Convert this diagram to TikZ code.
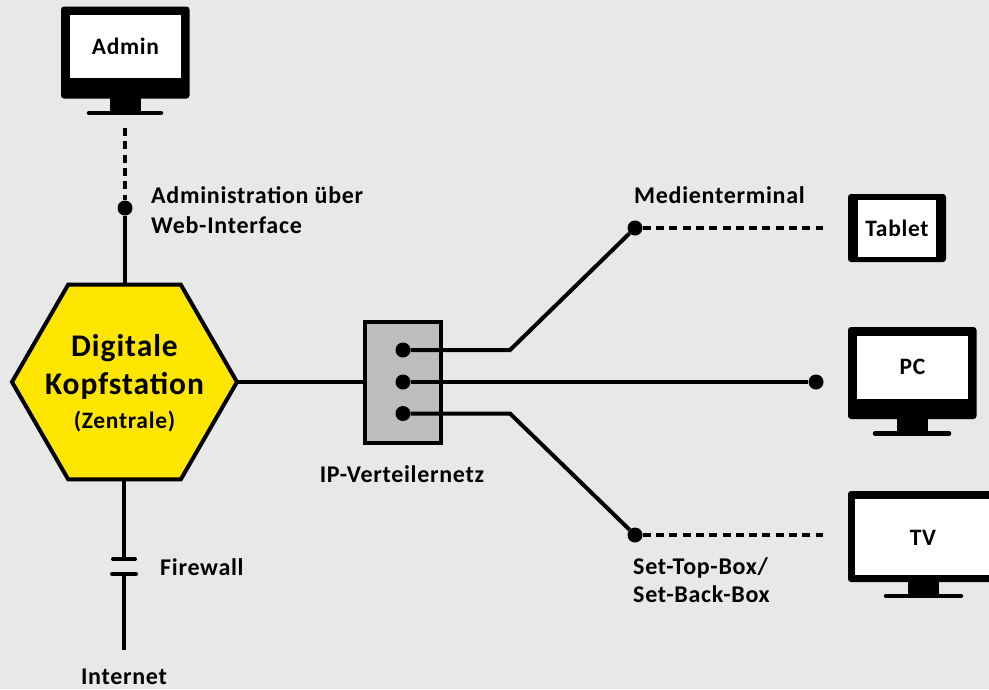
\documentclass[tikz,border=0pt]{standalone}
\usepackage{fontspec}
\setmainfont{Carlito}[LetterSpace=3,BoldFont=Carlito Bold]
\usetikzlibrary{calc,shapes.geometric}
\definecolor{fondgris}{HTML}{E8E8E8}
\definecolor{jaune}{HTML}{FFE600}
\definecolor{boitegris}{HTML}{BDBDBC}
\tikzset{
  trait/.style={line width=4pt},
  pointille/.style={line width=4pt,dash pattern=on 8pt off 5.3pt},
  point/.style={circle,fill=black,inner sep=0pt,minimum size=15pt},
  boitier/.style={fill=black,rounded corners=3pt,inner sep=0pt},
  ecran/.style={fill=white,inner sep=0pt,font=\bfseries\fontsize{23.5}{23.5}\selectfont},
  etiquette/.style={inner sep=0pt,align=left,font=\bfseries\fontsize{24}{30}\selectfont},
}
\begin{document}
\begin{tikzpicture}[x=1pt,y=-1pt]
\useasboundingbox (0,0) rectangle (989,689);
\fill [fondgris] (0,0) rectangle (989,689);
% Ecrans
\fill [boitier] (61,6.5) rectangle (189.5,98.5);
\fill [black] (110,98) rectangle (141,112);
\draw [line width=4.5pt,line cap=round] (89,113) -- (161,113);
\node [ecran,minimum width=111pt,minimum height=63pt] (admin) at (125.5,46.5) {Admin};
\fill [boitier] (848,194) rectangle (946,262);
\node [ecran,minimum width=78pt,minimum height=57pt] (tablet) at (897,228.5) {Tablet};
\fill [boitier] (848,327) rectangle (976.5,419);
\fill [black] (897,418) rectangle (928,433);
\draw [line width=4.5pt,line cap=round] (875,433.5) -- (949,433.5);
\node [ecran,minimum width=111pt,minimum height=63pt] (pc) at (912.5,367.5) {\raisebox{2pt}{PC}};
\fill [boitier] (848,491) rectangle (1000,582);
\fill [black] (908,581) rectangle (939,596);
\draw [line width=4.5pt,line cap=round] (886,596) -- (961,596);
\fill [white] (855,499) rectangle (989,575);
\node [inner sep=0pt,font=\bfseries\fontsize{23.5}{23.5}\selectfont] (tv) at (923,538) {TV};
% Kopfstation
\node [regular polygon,regular polygon sides=6,draw,line width=4pt,fill=jaune,
  inner sep=0pt,outer sep=0pt,minimum size=225pt] (kopf) at (124.5,382) {};
\node [inner sep=0pt,align=center,font=\bfseries\fontsize{31.5}{38}\selectfont] (kopftext) at (124.5,383.5)
  {Digitale\\Kopfstation\\[-4pt]{\fontsize{23.5}{34}\selectfont (Zentrale)}};
% Verteiler
\node [draw,line width=4pt,fill=boitegris,minimum width=76pt,minimum height=121pt,inner sep=0pt,outer sep=0pt] (verteiler) at (403,382) {};
\node [point] (v1) at (403,350) {};
\node [point] (v2) at (403,382) {};
\node [point] (v3) at (403,413.5) {};
\node [point] (webadmin) at (125,208) {};
\node [point] (medien) at (635,228) {};
\node [point] (pcpunkt) at (816,382) {};
\node [point] (settop) at (635,535) {};
\coordinate (kn1) at (510,350);
\coordinate (kn3) at (510,413.5);
\coordinate (adminfin) at (125,128);
\coordinate (medienfin) at (823,228);
\coordinate (settopfin) at (823,535);
\coordinate (fw1) at (124,559);
\coordinate (fw2) at (124,574);
\coordinate (netzfin) at (124,650);
% Liaisons
\draw [pointille] (adminfin) -- (webadmin);
\draw [trait] (webadmin) -- (webadmin |- kopf.north);
\draw [trait] (kopf.east) -- (verteiler.west);
\draw [trait] (v1) -- (kn1) -- (medien);
\draw [trait] (v2) -- (pcpunkt);
\draw [trait] (v3) -- (kn3) -- (settop);
\draw [pointille] (medien) -- (medienfin);
\draw [pointille] (settop) -- (settopfin);
\draw [trait] (fw1 |- kopf.south) -- (fw1);
\draw [trait] (fw2) -- (netzfin);
\draw [trait,line cap=round] ($(fw1)+(-11,0)$) -- ($(fw1)+(11,0)$);
\draw [trait,line cap=round] ($(fw2)+(-12,0)$) -- ($(fw2)+(12,0)$);
% Texte
\node [etiquette,anchor=west] (adminlabel) at (151,210.5) {Administration über\\Web-Interface};
\node [etiquette,anchor=west] (medienlabel) at (634,195) {Medienterminal};
\node [etiquette,anchor=west] (settoplabel) at (633,580) {Set-Top-Box/\\[-1.5pt]Set-Back-Box};
\node [etiquette] (iplabel) at (402,474) {IP-Verteilernetz};
\node [etiquette,anchor=west] (fwlabel) at (160,567) {Firewall};
\node [etiquette] (netzlabel) at (124,677) {Internet};
\end{tikzpicture}
\end{document}
